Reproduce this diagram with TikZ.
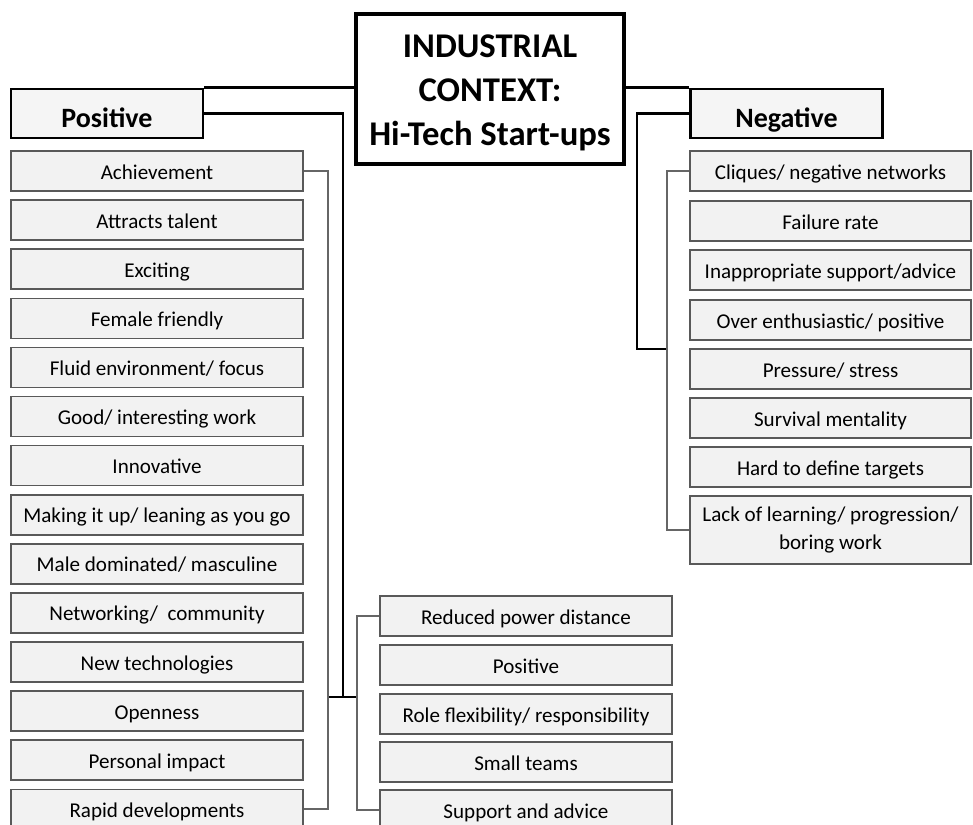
\documentclass[tikz,border=0pt]{standalone}
\usepackage{fontspec}
\setmainfont{Carlito}
\begin{document}
\begin{tikzpicture}[x=0.75pt,y=-0.75pt,
  itembox/.style={draw=black!65, fill=black!5, line width=1.2pt, inner sep=0pt,
    minimum width=219pt, minimum height=30pt, font=\fontsize{15.8}{18}\selectfont, align=center,
    text height=15pt, text depth=3pt},
  negbox/.style={itembox, minimum width=210.75pt},
  headbox/.style={draw=black, fill=black!4, line width=2.2pt, inner sep=0pt,
    minimum width=144pt, minimum height=36.75pt, font=\fontsize{21}{24}\bfseries\selectfont,
    text height=22pt, text depth=1pt},
  mainline/.style={draw=black, line width=2.2pt},
  thinline/.style={draw=black!60, line width=1.3pt}]
\clip (0,0) rectangle (973,824);
\fill[white] (0,0) rectangle (973,824);

% central
\node[draw=black, line width=2.4pt, fill=white, minimum width=201pt, minimum height=112.5pt,
  inner sep=0pt,
  label={[align=center, inner sep=0pt, yshift=-3pt, font=\fontsize{26}{33}\bfseries\selectfont]center:{INDUSTRIAL\\CONTEXT:\\Hi-Tech Start-ups}}]
  (ctr) at (490,89) {};

% headers
\node[headbox] (pos) at (107,113.5) {Positive};
\node[headbox] (neg) at (786.5,113.5) {Negative};

% left items
\foreach \t [count=\i] in {Achievement, Attracts talent, Exciting, Female friendly,
  Fluid environment/ focus, Good/ interesting work, Innovative,
  Making it up/ leaning as you go, Male dominated/ masculine,
  Networking/~ community, New technologies, Openness, Personal impact, Rapid developments}
  \node[itembox] (l\i) at (157,{171+49.1*(\i-1)}) {\t};

% middle items
\node[itembox] (r1) at (526,616) {Reduced power distance};
\node[itembox] (r2) at (526,665) {Positive};
\node[itembox] (r3) at (526,714) {Role flexibility/ responsibility};
\node[itembox] (r4) at (526,762) {Small teams};
\node[itembox] (r5) at (526,810) {Support and advice};

% negative items
\node[negbox] (n1) at (830.5,171) {Cliques/ negative networks};
\node[negbox] (n2) at (830.5,221) {Failure rate};
\node[negbox] (n3) at (830.5,270) {Inappropriate support/advice};
\node[negbox] (n4) at (830.5,320) {Over enthusiastic/ positive};
\node[negbox] (n5) at (830.5,369) {Pressure/ stress};
\node[negbox] (n6) at (830.5,418) {Survival mentality};
\node[negbox] (n7) at (830.5,467) {Hard to define targets};
\node[negbox, minimum height=51pt, text height=, text depth=,
  font=\fontsize{15.8}{21}\selectfont] (n8) at (830.5,530)
  {Lack of learning/ progression/\\boring work};

% coordinates
\coordinate (lbx) at (328,0);
\coordinate (rbx) at (357,0);
\coordinate (px) at (343,0);
\coordinate (jy) at (0,697);
\coordinate (nx) at (637,0);
\coordinate (nbx) at (667,0);
\coordinate (ny) at (0,349);

% main connectors
\draw[mainline] (ctr.west |- pos.north) -- (pos.north east);
\draw[mainline] (ctr.east |- neg.north) -- (neg.north west);
\draw[mainline] (pos.east) -- (pos.east -| px) -- (px |- jy);
\draw[mainline] (lbx |- jy) -- (rbx |- jy);
\draw[mainline] (neg.west) -- (neg.west -| nx) -- (nx |- ny) -- (nbx |- ny);

% brackets
\draw[thinline] (l1.east) -- (l1.east -| lbx) -- (l14.east -| lbx) -- (l14.east);
\draw[thinline] (r1.west) -- (r1.west -| rbx) -- (r5.west -| rbx) -- (r5.west);
\draw[thinline] (n1.west) -- (n1.west -| nbx) -- (n8.west -| nbx) -- (n8.west);
\end{tikzpicture}
\end{document}
